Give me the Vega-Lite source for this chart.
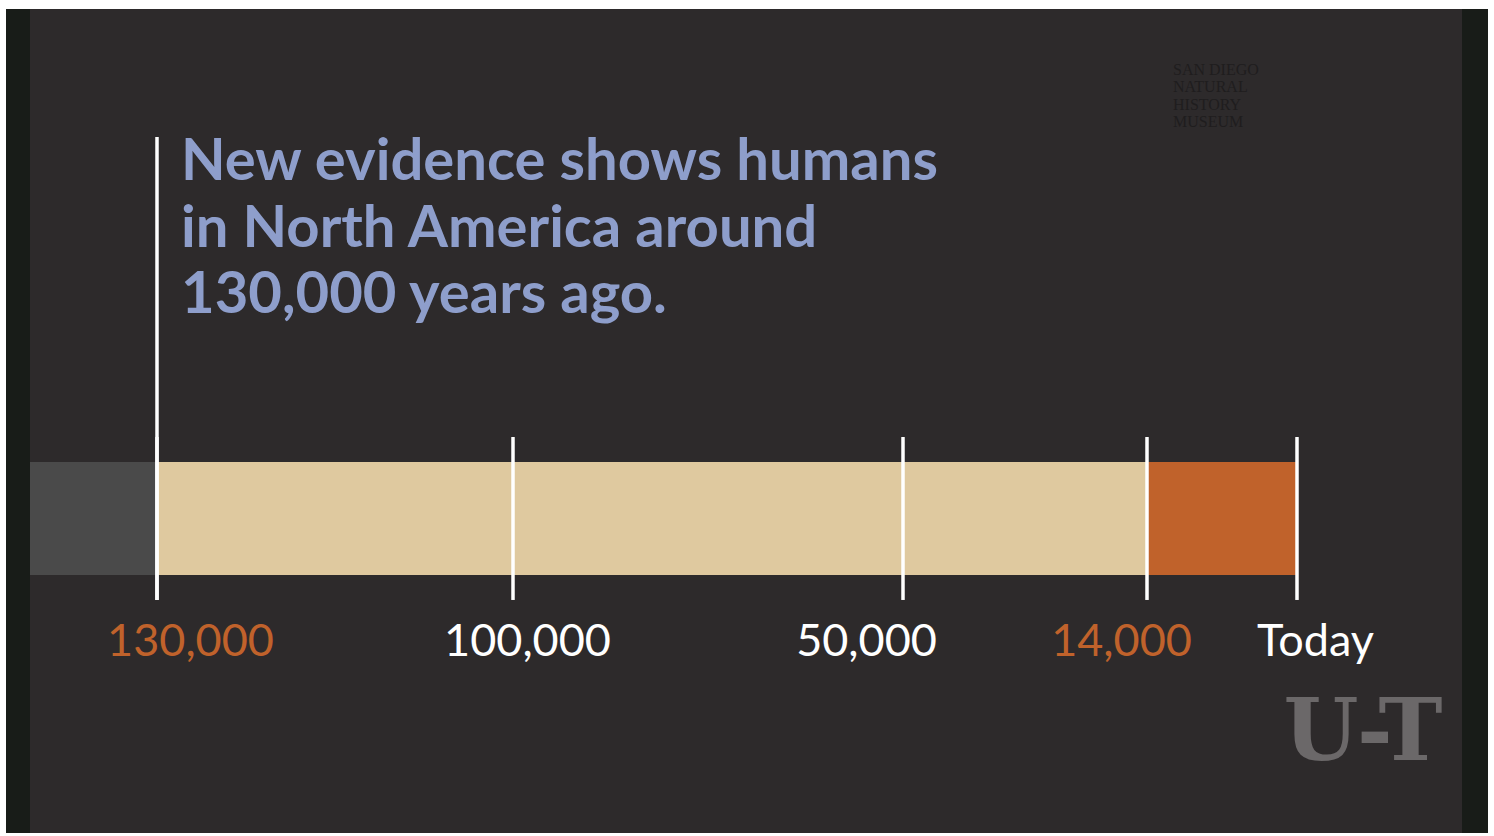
{
  "$schema": "https://vega.github.io/schema/vega-lite/v6.json",
  "width": 1482,
  "height": 824,
  "autosize": {"type": "none"},
  "padding": {"left": 6, "right": 6, "top": 9, "bottom": 3},
  "background": "#ffffff",
  "config": {"view": {"fill": "#181c18", "stroke": null}},
  "title": {
    "text": ["New evidence shows humans", "in North America around", "130,000 years ago."],
    "anchor": "start",
    "frame": "group",
    "orient": "top",
    "offset": 0,
    "font": "Lato",
    "fontSize": 58,
    "fontWeight": "bold",
    "color": "#8e9ecb",
    "lineHeight": 66.5,
    "baseline": "alphabetic",
    "dx": 175,
    "dy": 362
  },
  "encoding": {
    "x": {
      "field": "year",
      "type": "quantitative",
      "scale": {
        "domain": [140000, 130000, 100000, 50000, 14000, 0, -15000],
        "range": [24, 151, 507, 897, 1141, 1291, 1456],
        "nice": false,
        "zero": false
      },
      "axis": {
        "orient": "bottom",
        "offset": -233,
        "zindex": 2,
        "domain": false,
        "ticks": false,
        "tickSize": 0,
        "grid": false,
        "title": null,
        "values": [130000, 100000, 50000, 14000, 0],
        "labelExpr": "datum.value == 0 ? 'Today' : format(datum.value, ',')",
        "labelFont": "Lato",
        "labelFontSize": 45,
        "labelPadding": 19,
        "labelBaseline": "top",
        "labelAlign": "center",
        "labelOverlap": false,
        "labelFlush": false,
        "labelBound": false,
        "labelColor": {
          "condition": {"test": "datum.value == 130000 || datum.value == 14000", "value": "#c0622b"},
          "value": "#ffffff"
        },
        "labelOffset": {
          "condition": [
            {"test": "datum.value == 130000", "value": 33},
            {"test": "datum.value == 100000", "value": 14},
            {"test": "datum.value == 50000", "value": -37},
            {"test": "datum.value == 14000", "value": -26}
          ],
          "value": 18
        }
      }
    }
  },
  "layer": [
    {
      "data": {"values": [{"year": 140000, "end": -15000}]},
      "mark": {"type": "rect", "color": "#2d2a2b"},
      "encoding": {"x2": {"field": "end"}}
    },
    {
      "data": {"values": [
        {"period": "before", "year": 140000, "end": 130000},
        {"period": "early", "year": 130000, "end": 14000},
        {"period": "recent", "year": 14000, "end": 0}
      ]},
      "mark": {"type": "rect"},
      "encoding": {
        "x2": {"field": "end"},
        "y": {"datum": 1, "type": "quantitative", "scale": {"domain": [-2.2832, 5.0088], "nice": false, "zero": false}, "axis": null},
        "y2": {"datum": 0},
        "color": {
          "field": "period",
          "type": "nominal",
          "scale": {"domain": ["before", "early", "recent"], "range": ["#4a4a4a", "#dfc99f", "#c0622b"]},
          "legend": null
        }
      }
    },
    {
      "data": {"values": [
        {"year": 130000, "label": "130,000"},
        {"year": 100000, "label": "100,000"},
        {"year": 50000, "label": "50,000"},
        {"year": 14000, "label": "14,000"},
        {"year": 0, "label": "Today"}
      ]},
      "layer": [
        {
          "mark": {"type": "rule", "color": "#ffffff", "strokeWidth": 3.5},
          "encoding": {
            "y": {"datum": 1.221, "type": "quantitative", "scale": {"domain": [-2.2832, 5.0088], "nice": false, "zero": false}, "axis": null},
            "y2": {"datum": -0.221}
          }
        },
        {
          "transform": [{"filter": "datum.year == 130000"}],
          "mark": {"type": "rule", "color": "#ffffff", "strokeWidth": 3.5},
          "encoding": {
            "y": {"datum": 3.876, "type": "quantitative", "scale": {"domain": [-2.2832, 5.0088], "nice": false, "zero": false}, "axis": null},
            "y2": {"datum": -0.221}
          }
        }
      ]
    },
    {
      "data": {"values": [{"year": 11573, "text": ["SAN DIEGO", "NATURAL", "HISTORY", "MUSEUM"]}]},
      "mark": {"type": "text", "font": "Liberation Serif", "fontSize": 16, "color": "#1f1d1e", "align": "left", "baseline": "top", "lineHeight": 17.5},
      "encoding": {
        "y": {"datum": 4.54, "type": "quantitative", "scale": {"domain": [-2.2832, 5.0088], "nice": false, "zero": false}, "axis": null},
        "text": {"field": "text"}
      }
    },
    {
      "data": {"values": [{"year": -6000, "text": "U-T"}]},
      "mark": {"type": "text", "font": "DejaVu Serif", "fontWeight": "bold", "fontSize": 86, "color": "#6b6869", "align": "center", "baseline": "alphabetic"},
      "encoding": {
        "y": {"datum": -1.637, "type": "quantitative", "scale": {"domain": [-2.2832, 5.0088], "nice": false, "zero": false}, "axis": null},
        "text": {"field": "text"}
      }
    }
  ]
}
